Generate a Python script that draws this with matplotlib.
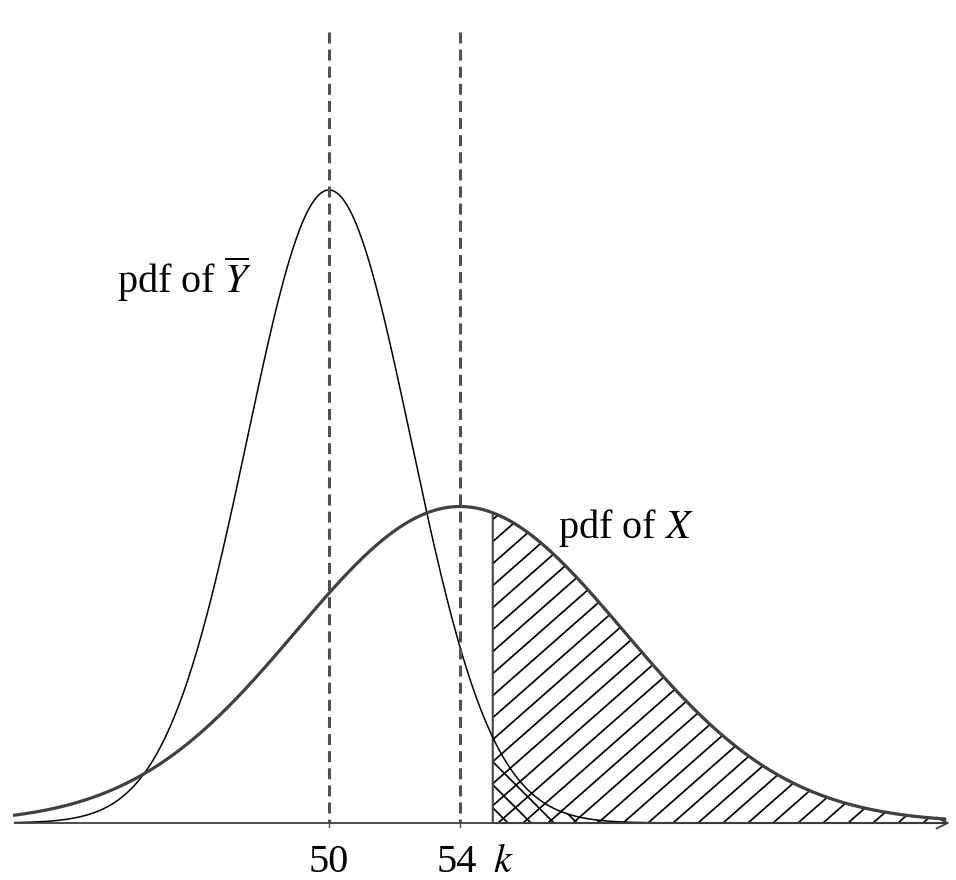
import numpy as np
import matplotlib.pyplot as plt

plt.rcParams['font.family'] = ['Liberation Serif', 'DejaVu Serif']
plt.rcParams['mathtext.fontset'] = 'stix'

# distributions
mu_y, sd_y = 50, 2.5     # Y-bar
mu_x, sd_x = 54, 5       # X
k = 55
x_lo, x_hi = 40.4, 68.8
tick_vals = [50, 54]
tick_labels = ['50', '54']

W, H = 956, 880
fig = plt.figure(figsize=(W / 100, H / 100), dpi=100)
ax = fig.add_axes([0, 0, 1, 1])
ax.axis('off')

# pixel-matched limits
px_per_x = 32.75
px_per_y = 3966.7
xmin = 50 - 329 / px_per_x
ax.set_xlim(xmin, xmin + W / px_per_x)
ax.set_ylim(-57 / px_per_y, (H - 57) / px_per_y)


def pdf(x, mu, sd):
    return np.exp(-(x - mu) ** 2 / (2 * sd ** 2)) / (sd * np.sqrt(2 * np.pi))


xs = np.linspace(x_lo, x_hi, 800)
py = pdf(xs, mu_y, sd_y)
px = pdf(xs, mu_x, sd_x)

# shaded tail regions (outline only, hatched by hand below)
xt = np.linspace(k, x_hi, 400)
reg_x = ax.fill_between(xt, pdf(xt, mu_x, sd_x), 0, facecolor='none',
                        edgecolor='#444444', lw=1.5, zorder=2)
reg_y = ax.fill_between(xt, pdf(xt, mu_y, sd_y), 0, facecolor='none',
                        edgecolor='none', lw=0, zorder=2)


def hatch(region, sign, dx=25.0, dy=22.0, phase=0.0):
    # straight hatch lines in pixel space, clipped to the region
    slope = dy / dx
    path = region.get_paths()[0]
    for c in np.arange(-2 * W, 2 * W, dx):
        xp = np.array([0, W])
        if sign > 0:
            yp = (xp - c - phase) * slope
        else:
            yp = (c + phase - xp) * slope
        ln, = ax.plot(xp / W, yp / H + 57 / H, transform=ax.transAxes,
                      color='black', lw=1.25, zorder=1)
        ln.set_clip_path(path, ax.transData)


hatch(reg_x, +1, phase=10)
hatch(reg_y, -1, dx=23, dy=23, phase=5)

# curves
ax.plot(xs, py, color='black', lw=1.1, zorder=3)
ax.plot(xs, px, color='#404040', lw=2.3, zorder=3)

# dashed lines at the means
top = (823 - 32) / px_per_y
for v in tick_vals:
    ax.plot([v, v], [top, 0], color='#505050', lw=2.2,
            linestyle=(0, (3.6, 2.0)), zorder=4)
    ax.plot([v, v], [0, -4 / px_per_y], color='#505050', lw=1.0)

# horizontal axis with arrow
ax.annotate('', xy=(x_hi + 0.15, 0), xytext=(x_lo, 0),
            arrowprops=dict(arrowstyle='->', color='#404040', lw=1.3,
                            mutation_scale=20, shrinkA=0, shrinkB=0),
            zorder=5)

# labels
fs = 29
fig.text(117 / W, 1 - 293 / H, r'pdf of $\overline{Y}$', fontsize=fs,
         va='baseline', ha='left')
fig.text(558 / W, 1 - 538 / H, r'pdf of $X$', fontsize=fs,
         va='baseline', ha='left')
for v, lab in zip(tick_vals, tick_labels):
    xpix = 329 + (v - 50) * px_per_x - (3 if v == 54 else 0)
    fig.text(xpix / W, 1 - 872 / H, lab, fontsize=fs, va='baseline', ha='center')
fig.text(503 / W, 1 - 872 / H, r'$k$', fontsize=fs, va='baseline', ha='center')

fig.savefig('out.png', dpi=100)
